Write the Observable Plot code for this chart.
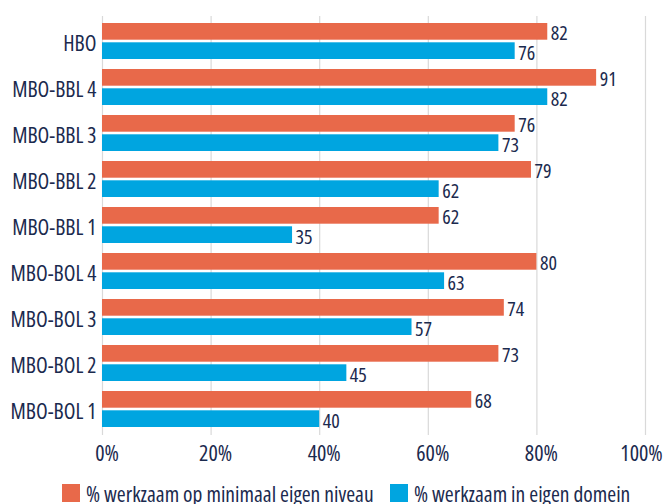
<!DOCTYPE html>
<html><head><meta charset="utf-8">
<script src="https://cdn.jsdelivr.net/npm/d3@7"></script>
<script src="https://cdn.jsdelivr.net/npm/@observablehq/plot@0.6"></script>
<style>
body{margin:0;background:#fff;font-family:"Open Sans",sans-serif;font-stretch:75%;color:#1b2a4e;}
#chart svg{display:block;}
#chart svg text{font-stretch:75%;}
#legend{position:relative;height:34px;font-size:21.5px;}
.item{position:absolute;top:14px;height:18px;display:flex;align-items:center;white-space:nowrap;}
.sw{width:18px;height:18px;margin-right:6px;flex:none;}
</style></head><body>
<div id="chart"></div>
<div id="legend"></div>
<script>
const categories = ["HBO","MBO-BBL 4","MBO-BBL 3","MBO-BBL 2","MBO-BBL 1","MBO-BOL 4","MBO-BOL 3","MBO-BOL 2","MBO-BOL 1"];
const seriesNames = ["% werkzaam op minimaal eigen niveau","% werkzaam in eigen domein"];
const niveau = [82,91,76,79,62,80,74,73,68];
const domein = [76,82,73,62,35,63,57,45,40];
const colors = ["#E8694A","#00A5E0"];
const xTicks = [0,20,40,60,80,100];

const rows = categories.map((c,i)=>({cat:c, niveau:niveau[i], domein:domein[i]}));
const font = '"Open Sans",sans-serif';
const ink = "#1b2a4e";
const innerTicks = xTicks.slice(0, -1);
const lastTick = xTicks.slice(-1);

const chart = Plot.plot({
  width:664, height:470,
  marginLeft:102, marginRight:19, marginTop:16, marginBottom:35,
  style:{fontFamily:font, fontSize:"20px", color:ink, background:"#fff", overflow:"visible"},
  x:{domain:[0,100], label:null},
  y:{domain:categories, paddingInner:0.21, paddingOuter:0.13, label:null},
  marks:[
    Plot.gridX(xTicks,{stroke:"#d9d9d9", strokeOpacity:1, strokeWidth:1.2}),
    Plot.axisX(innerTicks,{tickFormat:d=>d+"%", tickSize:0, tickPadding:9.5, fontSize:22, fill:ink, dx:4.5, label:null}),
    Plot.axisX(lastTick,{tickFormat:d=>d+"%", tickSize:0, tickPadding:9.5, fontSize:22, fill:ink, dx:-4, label:null}),
    Plot.axisY({tickSize:0, tickPadding:6, fontSize:21.5, fill:ink, dy:3, label:null}),
    Plot.barX(rows,{y:"cat", x:"niveau", fill:colors[0], insetBottom:19.3}),
    Plot.barX(rows,{y:"cat", x:"domein", fill:colors[1], insetTop:19.3}),
    Plot.text(rows,{y:"cat", x:"niveau", text:d=>String(d.niveau), textAnchor:"start", dx:3, dy:-7.7, fontSize:20, fill:ink}),
    Plot.text(rows,{y:"cat", x:"domein", text:d=>String(d.domein), textAnchor:"start", dx:3, dy:11.7, fontSize:20, fill:ink})
  ]
});
document.getElementById("chart").appendChild(chart);

const legend = document.getElementById("legend");
const lx = [62, 390];
seriesNames.forEach((s,i)=>{
  const it = document.createElement("div");
  it.className = "item";
  it.style.left = lx[i]+"px";
  const sw = document.createElement("div");
  sw.className = "sw";
  sw.style.background = colors[i];
  const t = document.createElement("span");
  t.textContent = s;
  it.appendChild(sw); it.appendChild(t);
  legend.appendChild(it);
});
</script>
</body></html>
